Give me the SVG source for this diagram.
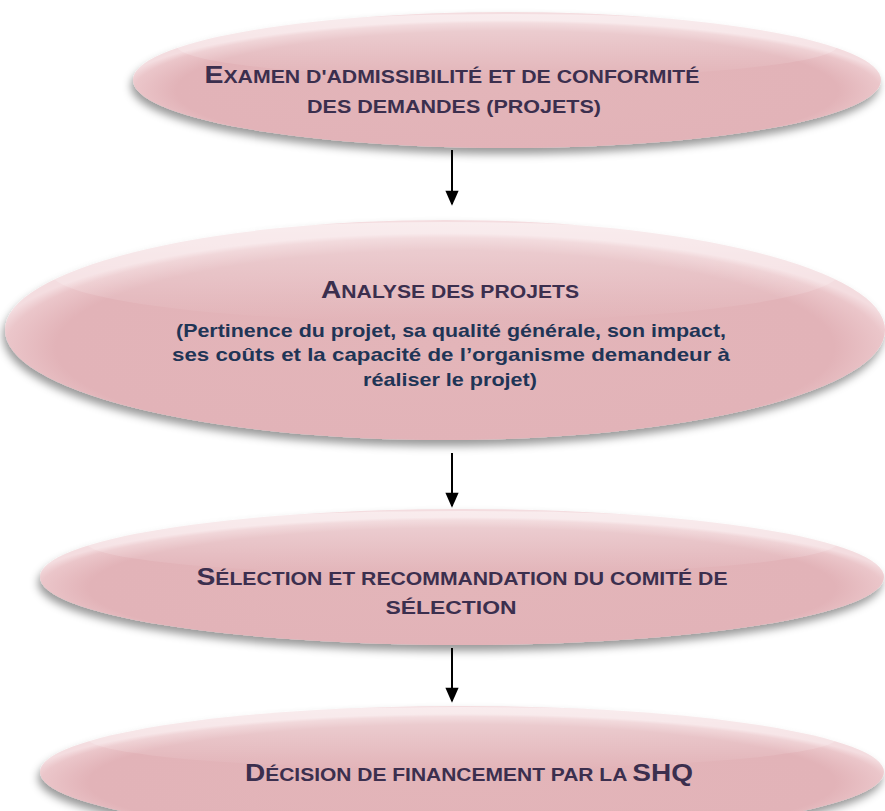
<svg xmlns="http://www.w3.org/2000/svg" width="885" height="811" viewBox="0 0 885 811">
<defs>
<radialGradient id="fill" cx="50%" cy="58%" r="52%">
<stop offset="0" stop-color="#e3b5b9"/>
<stop offset="0.85" stop-color="#e2b3b8"/>
<stop offset="0.96" stop-color="#ebc6ca"/>
<stop offset="1" stop-color="#f4dde0"/>
</radialGradient>
<linearGradient id="gloss" x1="0" y1="0" x2="0" y2="1">
<stop offset="0" stop-color="#ffffff" stop-opacity="0.45"/>
<stop offset="1" stop-color="#ffffff" stop-opacity="0"/>
</linearGradient>
<filter id="sh" x="-10%" y="-20%" width="120%" height="150%">
<feDropShadow dx="-2" dy="6" stdDeviation="4" flood-color="#000" flood-opacity="0.4"/>
</filter>
<marker id="ah" viewBox="0 0 15 17" refX="15" refY="7.5" markerWidth="17" markerHeight="15" markerUnits="userSpaceOnUse" orient="auto">
<path d="M0,0 L17,7.5 L0,15 z" fill="#000"/>
</marker>
<style>
.body{fill:url(#fill);filter:url(#sh)}
.gl{fill:url(#gloss)}
.t{font-family:"Liberation Sans",Arial,sans-serif;font-weight:bold;fill:#3b2f4e;text-anchor:middle;font-size:18px}
.b{font-size:24px}
.p{font-family:"Liberation Sans",Arial,sans-serif;font-weight:bold;fill:#1f3556;text-anchor:middle;font-size:19px}
.c{stroke:#000;stroke-width:2;fill:none}
</style>
</defs>
<g id="connectors">
<line class="c" x1="452" y1="150" x2="452" y2="204" marker-end="url(#ah)"/>
<line class="c" x1="452" y1="453" x2="452" y2="506" marker-end="url(#ah)"/>
<line class="c" x1="452" y1="648" x2="452" y2="701" marker-end="url(#ah)"/>
</g>
<g id="n1">
<ellipse class="body" cx="507" cy="80" rx="374" ry="68"/>
<ellipse class="gl" cx="507" cy="46" rx="330" ry="32"/>
<text class="t" x="452" y="83" textLength="495" lengthAdjust="spacingAndGlyphs"><tspan class="b">E</tspan>XAMEN D'ADMISSIBILITÉ ET DE CONFORMITÉ</text>
<text class="t" x="454" y="113" textLength="294" lengthAdjust="spacingAndGlyphs">DES DEMANDES (PROJETS)</text>
</g>
<g id="n2">
<ellipse class="body" cx="445" cy="330" rx="440" ry="110"/>
<ellipse class="gl" cx="445" cy="272" rx="395" ry="50"/>
<text class="t" x="450" y="298" textLength="258" lengthAdjust="spacingAndGlyphs"><tspan class="b">A</tspan>NALYSE DES PROJETS</text>
<text class="p" x="451" y="337" textLength="550" lengthAdjust="spacingAndGlyphs">(Pertinence du projet, sa qualité générale, son impact,</text>
<text class="p" x="451" y="361" textLength="558" lengthAdjust="spacingAndGlyphs">ses coûts et la capacité de l’organisme demandeur à</text>
<text class="p" x="450" y="386" textLength="174" lengthAdjust="spacingAndGlyphs">réaliser le projet)</text>
</g>
<g id="n3">
<ellipse class="body" cx="462" cy="577" rx="422" ry="68"/>
<ellipse class="gl" cx="462" cy="543" rx="375" ry="32"/>
<text class="t" x="462" y="585" textLength="531" lengthAdjust="spacingAndGlyphs"><tspan class="b">S</tspan>ÉLECTION ET RECOMMANDATION DU COMITÉ DE</text>
<text class="t" x="451" y="614" textLength="131" lengthAdjust="spacingAndGlyphs">SÉLECTION</text>
</g>
<g id="n4">
<ellipse class="body" cx="462" cy="772" rx="422" ry="66"/>
<ellipse class="gl" cx="462" cy="738" rx="375" ry="31"/>
<text class="t" x="469" y="781" textLength="448" lengthAdjust="spacingAndGlyphs"><tspan class="b">D</tspan>ÉCISION DE FINANCEMENT PAR LA <tspan class="b">SHQ</tspan></text>
</g>
</svg>
